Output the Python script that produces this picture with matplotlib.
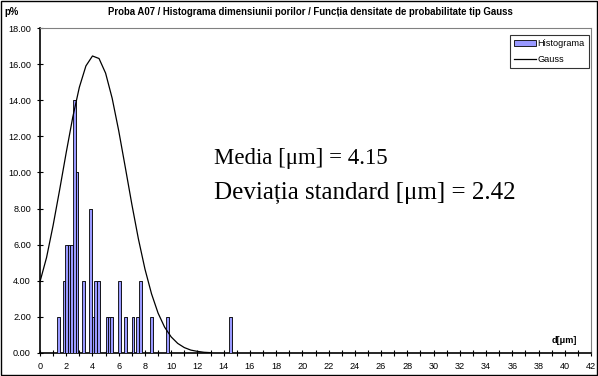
import matplotlib
matplotlib.use("Agg")
import matplotlib.pyplot as plt
from matplotlib.patches import Rectangle

# histogram bars: pore size [um] and share [%]
bar_x = [1.43, 1.83, 2.04, 2.22, 2.42, 2.61, 2.83, 3.33, 3.84, 4.04, 4.25, 4.45,
         5.11, 5.29, 5.46, 6.08, 6.52, 7.09, 7.44, 7.66, 8.48, 9.70, 14.50]
bar_p = [2, 4, 6, 6, 6, 14, 10, 4, 8, 2, 4, 4,
         2, 2, 2, 4, 2, 2, 2, 4, 2, 2, 2]

# Gauss curve (step 0.5 um)
gauss_x = [0.0, 0.5, 1.0, 1.5, 2.0, 2.5, 3.0, 3.5, 4.0, 4.5, 5.0, 5.5, 6.0, 6.5,
           7.0, 7.5, 8.0, 8.5, 9.0, 9.5, 10.0, 10.5, 11.0, 11.5, 12.0, 12.5, 13.0]
gauss_p = [3.95, 5.29, 7.07, 9.05, 11.11, 13.07, 14.72, 15.90, 16.45, 16.31, 15.50,
           14.11, 12.31, 10.29, 8.24, 6.32, 4.65, 3.28, 2.21, 1.43, 0.89, 0.53,
           0.30, 0.16, 0.09, 0.04, 0.02]

y_ticks = [0, 2, 4, 6, 8, 10, 12, 14, 16, 18]

title = "Proba A07 / Histograma dimensiunii porilor / Funcția densitate de probabilitate tip Gauss"
media = "Media [\u03bcm] = 4.15"
deviatia = "Deviația standard [\u03bcm] = 2.42"

plt.rcParams["font.family"] = ["Liberation Sans", "DejaVu Sans"]
serif = ["Liberation Serif", "DejaVu Serif"]

fig = plt.figure(figsize=(5.98, 3.76), dpi=100)
ax = fig.add_axes([40 / 598, 1 - 353 / 376, 551 / 598, 325 / 376])

# outer frame of the whole chart
fig.patches.append(Rectangle((0.002, 0.003), 0.996, 0.994, transform=fig.transFigure,
                             fill=False, edgecolor="black", linewidth=1.0))

w = 0.2
ax.bar([x + 0.08 for x in bar_x], bar_p, width=w, color="#8c8c8c", linewidth=0, zorder=2)
bars = ax.bar(bar_x, bar_p, width=w, color="#9999ff", edgecolor="black", linewidth=0.6,
              zorder=3, label="Histograma")
line, = ax.plot(gauss_x, gauss_p, color="black", linewidth=0.9, zorder=4, label="Gauss")

ax.set_xlim(0, 42)
ax.set_ylim(0, 18)
ax.set_yticks(y_ticks)
ax.set_yticklabels([f"{v:.2f}" for v in y_ticks], fontsize=6.6)
ax.set_xticks(range(0, 43))
ax.set_xticklabels([str(v) if v % 2 == 0 else "" for v in range(0, 43)], fontsize=6.6)
ax.tick_params(axis="both", direction="inout", length=5, width=0.8, pad=4)

for s in ["top", "right"]:
    ax.spines[s].set_color("#808080")
    ax.spines[s].set_linewidth(0.8)
for s in ["left", "bottom"]:
    ax.spines[s].set_linewidth(1.2)

leg = ax.legend([bars, line], ["Histograma", "Gauss"], loc="upper right",
                bbox_to_anchor=(0.9965, 0.978), fontsize=6.6, frameon=True,
                fancybox=False, edgecolor="black", handlelength=2.4, handleheight=0.55,
                borderpad=0.45, labelspacing=0.75, handletextpad=0.2, borderaxespad=0)
leg.get_frame().set_linewidth(0.8)

ax.text(13.3, 10.75, media, fontsize=16.5, family=serif, va="center", ha="left")
ax.text(13.3, 8.85, deviatia, fontsize=18, family=serif, va="center", ha="left")
ax.text(40.9, 0.7, "d[\u03bcm]", fontsize=6.6, fontweight="bold", ha="right", va="center")

fig.text(310 / 598, 1 - 12 / 376, title, fontsize=6.9, fontweight="bold",
         ha="center", va="center")
fig.text(4 / 598, 1 - 12 / 376, "p%", fontsize=6.9, fontweight="bold",
         ha="left", va="center")

fig.savefig("out.png", dpi=100)
